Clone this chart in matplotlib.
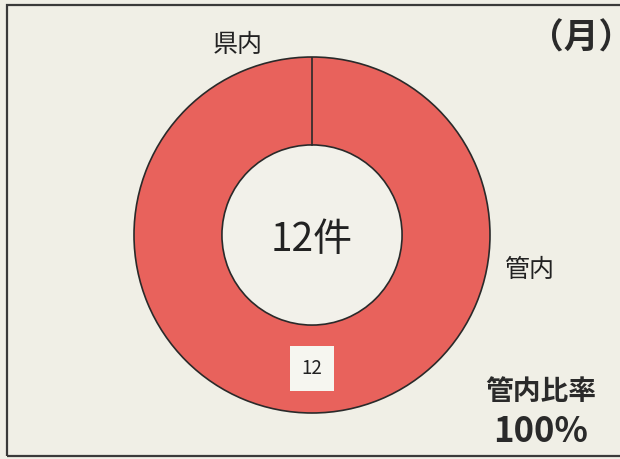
import numpy as np
import matplotlib.pyplot as plt
from matplotlib.patches import Rectangle

plt.rcParams['font.family'] = ['Noto Sans CJK JP', 'DejaVu Sans']

# data
labels = ['県内', '管内']
counts = [0, 12]
total_label = '12件'
ratio_label = '管内比率'
ratio_value = '100%'
period = '（月）'

bg = '#F0EFE6'
red = '#E8625C'
ink = '#2a2a2a'
hole = 0.506

fig = plt.figure(figsize=(6.2, 4.59), dpi=100)
fig.patch.set_facecolor(bg)

# frame (right edge runs off the picture)
fig.add_artist(Rectangle((7 / 620, 3 / 459), 1.0, 451 / 459,
                         transform=fig.transFigure, fill=False,
                         edgecolor='#3a3a3a', linewidth=1.6))

ax = fig.add_axes([134 / 620, 46 / 459, 356 / 620, 356 / 459])
wedges, _ = ax.pie(counts, colors=[red, red], startangle=90, counterclock=False,
                   radius=1.0,
                   wedgeprops=dict(width=1 - hole, edgecolor=ink, linewidth=1.2))
ax.set_xlim(-1, 1)
ax.set_ylim(-1, 1)
ax.axis('off')

# inner hole fill
ax.add_patch(plt.Circle((0, 0), hole, facecolor='#F2F1EA', edgecolor='none', zorder=0))

# boundary of the empty 県内 slice
ang = np.deg2rad(wedges[0].theta2)
ax.plot([hole * np.cos(ang), np.cos(ang)], [hole * np.sin(ang), np.sin(ang)],
        color=ink, linewidth=1.2)

# value label in the ring
ax.text(0, -0.75, str(counts[1]), ha='center', va='center', fontsize=13.5,
        color='#222222',
        bbox=dict(boxstyle='square,pad=0.62', facecolor='#F6F6F0', edgecolor='none'))

ax.text(0, -0.03, total_label, ha='center', va='center', fontsize=28, color='#222222')

# category labels
fig.text(238 / 620, 1 - 45 / 459, labels[0], ha='center', va='center',
         fontsize=18, color='#222222')
fig.text(529 / 620, 1 - 270 / 459, labels[1], ha='center', va='center',
         fontsize=18, color='#222222')

fig.text(581 / 620, 1 - 38 / 459, period, ha='center', va='center',
         fontsize=25, fontweight='bold', color=ink)
fig.text(541 / 620, 1 - 392 / 459, ratio_label, ha='center', va='center',
         fontsize=20, fontweight='bold', color=ink)
fig.text(541 / 620, 1 - 432 / 459, ratio_value, ha='center', va='center',
         fontsize=25, fontweight='bold', color=ink)

fig.savefig('out.png', dpi=100, facecolor=bg)
